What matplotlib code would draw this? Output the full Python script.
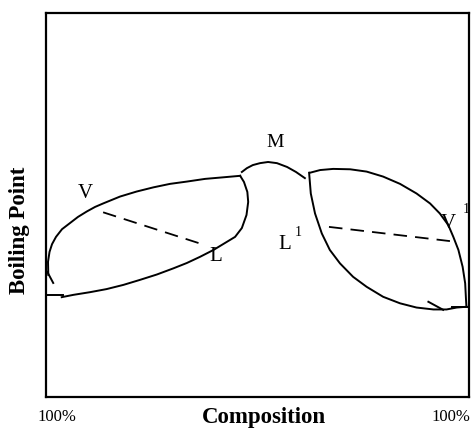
import matplotlib

matplotlib.use("Agg")
import matplotlib.pyplot as plt

plt.rcParams["font.family"] = ["Liberation Serif", "DejaVu Serif"]

# curve outlines in composition (%) / boiling point (arbitrary) units
left_vapour_x = [0.54, 0.47, 0.83, 1.42, 2.36, 3.78, 5.67, 7.56, 9.62, 11.6,
                 13.5, 17.5, 21.4, 25.4, 29.3, 33.3, 37.6, 41.8, 45.9]
left_vapour_y = [31.8, 35.2, 37.8, 39.8, 41.7, 43.7, 45.3, 46.9, 48.3, 49.5,
                 50.4, 52.2, 53.5, 54.6, 55.5, 56.1, 56.8, 57.2, 57.6]

left_liquid_x = [3.71, 6.45, 10.4, 14.3, 18.3, 22.2, 26.2, 30.1, 33.3, 36.4,
                 39.6, 42.3, 44.7, 46.3, 47.4, 47.8, 47.6, 46.8, 45.9]
left_liquid_y = [26.0, 26.6, 27.3, 28.1, 29.2, 30.5, 31.9, 33.5, 34.9, 36.5,
                 38.3, 40.1, 41.7, 44.0, 47.4, 50.8, 53.4, 56.0, 57.6]

azeo_x = [46.3, 47.5, 48.9, 50.6, 52.5, 54.6, 57.0, 59.1, 61.2]
azeo_y = [58.6, 59.6, 60.4, 60.9, 61.2, 60.9, 59.9, 58.6, 57.0]

right_vapour_x = [62.4, 64.8, 67.9, 71.9, 75.8, 79.7, 83.7, 87.6, 90.8, 93.1,
                  95.1, 96.3, 97.5, 98.5, 99.1, 99.3, 99.4]
right_vapour_y = [58.4, 59.1, 59.4, 59.3, 58.7, 57.4, 55.5, 53.0, 50.4, 47.8,
                  44.8, 41.7, 38.3, 33.9, 29.6, 25.3, 23.5]

right_liquid_x = [62.2, 62.6, 63.6, 65.2, 67.1, 69.5, 72.6, 75.8, 79.7, 83.7,
                  87.6, 91.6, 94.7, 97.1, 99.4]
right_liquid_y = [58.4, 53.0, 47.8, 42.6, 38.3, 34.8, 31.3, 28.7, 26.1, 24.4,
                  23.3, 22.8, 22.8, 23.3, 23.5]

# small end strokes
left_tick_x, left_tick_y = [0.3, 1.7], [32.6, 29.7]
left_foot_x, left_foot_y = [0.17, 4.1], [26.6, 26.6]
right_tick_x, right_tick_y = [90.4, 93.9], [24.8, 22.7]
right_foot_x, right_foot_y = [95.9, 99.8], [23.4, 23.4]

# tie lines
tie_left_x, tie_left_y = [13.5, 36.9], [48.1, 39.8]
tie_right_x, tie_right_y = [66.9, 95.5], [44.3, 40.6]

fig = plt.figure(figsize=(4.72, 4.30), dpi=100)
ax = fig.add_axes([0.0975, 0.0767, 0.8961, 0.8931])
ax.set_xlim(0, 100)
ax.set_ylim(0, 100)
ax.set_xticks([])
ax.set_yticks([])
for spine in ax.spines.values():
    spine.set_linewidth(1.6)
    spine.set_zorder(5)

line_kw = dict(color="black", lw=1.4, solid_joinstyle="round")
for xs, ys in [
    (left_vapour_x, left_vapour_y),
    (left_liquid_x, left_liquid_y),
    (azeo_x, azeo_y),
    (right_vapour_x, right_vapour_y),
    (right_liquid_x, right_liquid_y),
    (left_tick_x, left_tick_y),
    (left_foot_x, left_foot_y),
    (right_tick_x, right_tick_y),
    (right_foot_x, right_foot_y),
]:
    ax.plot(xs, ys, **line_kw)

ax.plot(tie_left_x, tie_left_y, color="black", lw=1.3, dashes=(7.5, 4.5))
ax.plot(tie_right_x, tie_right_y, color="black", lw=1.3, dashes=(7.5, 4.5))

lab = dict(fontsize=15, ha="center", va="center")
ax.text(9.2, 53.1, "V", **lab)
ax.text(40.2, 36.5, "L", **lab)
ax.text(54.1, 66.4, "M", fontsize=14, ha="center", va="center")
ax.text(56.5, 39.6, "L", **lab)
ax.text(59.6, 42.9, "1", fontsize=10, ha="center", va="center")
ax.text(95.0, 45.1, "V", **lab)
ax.text(99.3, 48.7, "1", fontsize=10, ha="center", va="center")

fig.text(0.042, 0.465, "Boiling Point", rotation=90, fontsize=16.5,
         fontweight="bold", ha="center", va="center")
fig.text(0.559, 0.028, "Composition", fontsize=16.5, fontweight="bold",
         ha="center", va="center")
fig.text(0.121, 0.030, "100%", fontsize=12, ha="center", va="center")
fig.text(0.955, 0.030, "100%", fontsize=12, ha="center", va="center")

fig.savefig("out.png", dpi=100)
